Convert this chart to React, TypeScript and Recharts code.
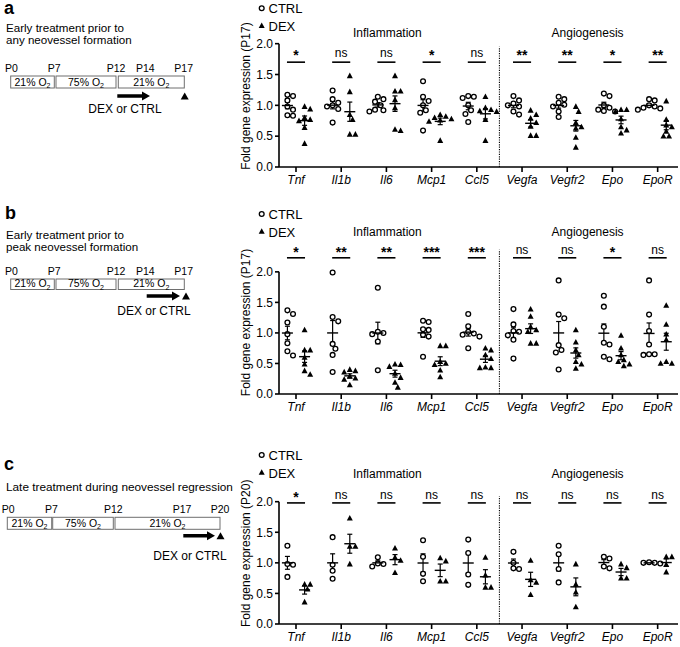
import React from 'react';
import { ScatterChart, Scatter, XAxis, YAxis, ReferenceLine, ReferenceDot, ErrorBar } from 'recharts';

const genes = ['Tnf', 'Il1b', 'Il6', 'Mcp1', 'Ccl5', 'Vegfa', 'Vegfr2', 'Epo', 'EpoR'];
const geneTicks = [0, 1, 2, 3, 4, 5, 6, 7, 8];
const yTicks = [0, 0.5, 1, 1.5, 2];

// a: early treatment P12-P14, harvested P17
const ctrlA = [
  [1.17, 1.15, 1.08, 0.98, 0.93, 0.84, 0.83],
  [1.24, 1.1, 1.04, 1.0, 0.98, 0.94, 0.72],
  [1.14, 1.1, 1.06, 1.0, 0.93, 0.92, 0.9],
  [1.39, 1.14, 1.07, 1.0, 0.92, 0.88, 0.59],
  [1.15, 1.14, 1.12, 1.0, 0.92, 0.86, 0.73],
  [1.15, 1.08, 1.03, 1.0, 0.98, 0.9, 0.85],
  [1.14, 1.1, 1.04, 1.01, 0.98, 0.9, 0.81],
  [1.19, 1.15, 1.0, 0.96, 0.93, 0.91, 0.9],
  [1.1, 1.08, 1.0, 0.98, 0.96, 0.95, 0.93],
];
const dexA = [
  [0.98, 0.94, 0.8, 0.77, 0.75, 0.64, 0.38],
  [1.48, 1.22, 0.85, 0.77, 0.53, 0.53],
  [1.48, 1.23, 1.23, 1.09, 0.96, 0.59, 0.61],
  [0.85, 0.82, 0.8, 0.78, 0.76, 0.74, 0.43],
  [1.14, 0.96, 0.93, 0.91, 0.9, 0.77, 0.43],
  [0.92, 0.85, 0.79, 0.72, 0.66, 0.51, 0.51],
  [0.98, 0.9, 0.72, 0.65, 0.63, 0.48, 0.32],
  [0.93, 0.93, 0.9, 0.78, 0.65, 0.6, 0.55],
  [1.07, 0.77, 0.68, 0.65, 0.58, 0.5, 0.5],
];
const sigA = ['*', 'ns', 'ns', '*', 'ns', '**', '**', '*', '**'];

// b: early treatment P14-P17, harvested P17
const ctrlB = [
  [1.37, 1.31, 1.17, 0.98, 0.83, 0.7, 0.63],
  [1.99, 1.26, 1.19, 0.82, 0.74, 0.64, 0.36],
  [1.74, 1.02, 1.0, 0.98, 0.86, 0.39],
  [1.2, 1.18, 1.06, 1.05, 0.97, 0.94, 0.61],
  [1.31, 1.11, 1.02, 0.99, 0.97, 0.94, 0.75],
  [1.39, 1.14, 1.03, 1.02, 0.96, 0.89, 0.58],
  [1.86, 1.3, 1.24, 0.8, 0.72, 0.68, 0.4],
  [1.61, 1.43, 1.1, 0.84, 0.81, 0.61, 0.57],
  [1.86, 1.3, 1.03, 0.81, 0.65, 0.65, 0.64],
];
const dexB = [
  [1.05, 0.72, 0.72, 0.6, 0.49, 0.38, 0.32],
  [0.4, 0.38, 0.36, 0.29, 0.26, 0.24, 0.15],
  [0.49, 0.48, 0.45, 0.34, 0.27, 0.19, 0.11],
  [0.79, 0.79, 0.53, 0.5, 0.48, 0.39, 0.28],
  [0.75, 0.72, 0.64, 0.58, 0.44, 0.43, 0.43],
  [1.39, 1.27, 1.1, 1.05, 1.02, 0.83, 0.83],
  [1.05, 0.85, 0.72, 0.64, 0.53, 0.49, 0.42],
  [0.96, 0.75, 0.64, 0.56, 0.53, 0.49, 0.46],
  [1.45, 1.14, 0.98, 0.89, 0.53, 0.5, 0.5],
];
const sigB = ['*', '**', '**', '***', '***', 'ns', 'ns', '*', 'ns'];

// c: late treatment P17-P20, harvested P20
const ctrlC = [
  [1.28, 0.98, 0.97, 0.77],
  [1.42, 0.97, 0.87, 0.74],
  [1.09, 0.99, 0.98, 0.94],
  [1.37, 1.1, 0.82, 0.7],
  [1.38, 1.16, 0.81, 0.64],
  [1.18, 1.0, 0.91, 0.9],
  [1.28, 1.14, 0.9, 0.68],
  [1.1, 1.07, 0.94, 0.91],
  [1.01, 1.0, 1.0, 0.99],
];
const dexC = [
  [0.65, 0.65, 0.57, 0.36],
  [1.73, 1.27, 1.27, 0.98],
  [1.24, 1.09, 1.04, 0.84],
  [1.08, 1.03, 0.7, 0.7],
  [1.09, 0.8, 0.6, 0.6],
  [1.04, 0.72, 0.68, 0.48],
  [0.98, 0.65, 0.52, 0.28],
  [0.98, 0.92, 0.75, 0.75],
  [1.1, 1.1, 0.97, 0.85],
];
const sigC = ['*', 'ns', 'ns', 'ns', 'ns', 'ns', 'ns', 'ns', 'ns'];

const FONT = '"Liberation Sans", Arial, Helvetica, sans-serif';
const X_MIN = -0.376;
const X_MAX = 8.45;
const PX_X = 399 / (X_MAX - X_MIN);
const OFF = 0.19;

const mean = (v: number[]) => v.reduce((s, x) => s + x, 0) / v.length;
const sem = (v: number[]) => {
  const m = mean(v);
  const sd = Math.sqrt(v.reduce((s, x) => s + (x - m) ** 2, 0) / (v.length - 1));
  return sd / Math.sqrt(v.length);
};

// little beeswarm so points at the same level sit next to each other
const swarm = (vals: number[], pxY: number) => {
  const placed: { y: number; dx: number }[] = [];
  const out = vals.map(() => 0);
  vals
    .map((v, i) => ({ v, i }))
    .sort((a, b) => b.v - a.v)
    .forEach(({ v, i }) => {
      for (const k of [0, 1, -1, 2, -2, 3, -3, 4, -4]) {
        const dx = k * 2.8;
        if (placed.every((p) => (p.dx - dx) ** 2 + ((p.y - v) * pxY) ** 2 >= 27)) {
          placed.push({ y: v, dx });
          out[i] = dx / PX_X;
          break;
        }
      }
    });
  return out;
};

const points = (groups: number[][], side: number, pxY: number) =>
  groups.flatMap((vals, i) => {
    const j = swarm(vals, pxY);
    return vals.map((v, k) => ({ x: i + side * OFF + j[k], y: v }));
  });

const means = (groups: number[][], side: number) =>
  groups.map((vals, i) => ({ x: i + side * OFF, y: mean(vals), sem: sem(vals) }));

const panels = [
  { key: 'a', top: 0, height: 200, mt: 19, mb: 13, yTop: 2.4, ctrl: ctrlA, dex: dexA, sig: sigA, sigY: 1.7, labelY: 1.86, headY: 2.17, divTop: 1.95 },
  { key: 'b', top: 200, height: 230, mt: 23, mb: 16, yTop: 2.8, ctrl: ctrlB, dex: dexB, sig: sigB, sigY: 2.23, labelY: 2.37, headY: 2.65, divTop: 2.36 },
  { key: 'c', top: 440, height: 207, mt: 25, mb: 3, yTop: 2.6, ctrl: ctrlC, dex: dexC, sig: sigC, sigY: 1.98, labelY: 2.12, headY: 2.46, divTop: 2.09 },
];

const OpenCircle = (p: any) => <circle cx={p.cx} cy={p.cy} r={2.4} fill="#fff" stroke="#000" strokeWidth={1.3} />;
const Tri = (p: any) => (
  <path d={`M${p.cx},${p.cy - 3.2}L${p.cx + 3},${p.cy + 2.4}L${p.cx - 3},${p.cy + 2.4}Z`} fill="#000" />
);
const MeanLine = (p: any) => <line x1={p.cx - 5.5} x2={p.cx + 5.5} y1={p.cy} y2={p.cy} stroke="#000" strokeWidth={1.4} />;

const Panel = ({ cfg }: { cfg: (typeof panels)[number] }) => {
  const plotH = cfg.height - cfg.mt - cfg.mb - 20;
  const pxY = plotH / cfg.yTop;
  const meanData = [...means(cfg.ctrl, -1), ...means(cfg.dex, 1)];
  return (
    <div style={{ position: 'absolute', left: 0, top: cfg.top }}>
      <ScatterChart width={680} height={cfg.height} margin={{ top: cfg.mt, right: 2, bottom: cfg.mb, left: 239 }}>
        <XAxis
          type="number"
          dataKey="x"
          domain={[X_MIN, X_MAX]}
          allowDataOverflow
          ticks={geneTicks}
          interval={0}
          tickFormatter={(v: number) => genes[Math.round(v)]}
          height={20}
          tickSize={5}
          tickMargin={3}
          axisLine={{ stroke: '#000', strokeWidth: 1.6 }}
          tickLine={{ stroke: '#000', strokeWidth: 1.6 }}
          tick={{ fill: '#000', fontSize: 12, fontStyle: 'italic', fontFamily: FONT }}
        />
        <YAxis
          type="number"
          dataKey="y"
          domain={[0, cfg.yTop]}
          allowDataOverflow
          ticks={yTicks}
          interval={0}
          tickFormatter={(v: number) => v.toFixed(1)}
          width={40}
          tickSize={4}
          tickMargin={2}
          axisLine={false}
          tickLine={{ stroke: '#000', strokeWidth: 1.6 }}
          tick={{ fill: '#000', fontSize: 12, fontFamily: FONT }}
        />
        <ReferenceLine segment={[{ x: X_MIN, y: 0 }, { x: X_MIN, y: 2 }]} stroke="#000" strokeWidth={1.6} ifOverflow="visible" />
        <ReferenceLine segment={[{ x: 4.5, y: 0 }, { x: 4.5, y: cfg.divTop }]} stroke="#000" strokeWidth={1.1} strokeDasharray="1.2 1.2" />
        {cfg.sig.map((s, i) => (
          <ReferenceLine key={`s${i}`} segment={[{ x: i - 0.2, y: cfg.sigY }, { x: i + 0.2, y: cfg.sigY }]} stroke="#000" strokeWidth={1.6} />
        ))}
        {cfg.sig.map((s, i) => (
          <ReferenceDot
            key={`t${i}`}
            x={i}
            y={s === 'ns' ? cfg.labelY : cfg.labelY - 3 / pxY}
            r={0}
            fill="none"
            stroke="none"
            label={{ value: s, position: 'center', fill: '#000', fontSize: s === 'ns' ? 12 : 14, fontWeight: s === 'ns' ? 'normal' : 'bold', fontFamily: FONT }}
          />
        ))}
        <ReferenceDot x={2.02} y={cfg.headY} r={0} fill="none" stroke="none"
          label={{ value: 'Inflammation', position: 'center', fill: '#000', fontSize: 12, fontFamily: FONT }} />
        <ReferenceDot x={6.45} y={cfg.headY} r={0} fill="none" stroke="none"
          label={{ value: 'Angiogenesis', position: 'center', fill: '#000', fontSize: 12, fontFamily: FONT }} />
        <Scatter name="CTRL" data={points(cfg.ctrl, -1, pxY)} shape={OpenCircle} isAnimationActive={false} />
        <Scatter name="DEX" data={points(cfg.dex, 1, pxY)} shape={Tri} isAnimationActive={false} />
        <Scatter name="mean" data={meanData} shape={MeanLine} isAnimationActive={false}>
          <ErrorBar dataKey="sem" direction="y" width={2.5} stroke="#000" strokeWidth={1.2} />
        </Scatter>
      </ScatterChart>
    </div>
  );
};

const O2 = ({ x, y, pct }: { x: number; y: number; pct: number }) => (
  <text x={x} y={y} textAnchor="middle" fontSize={10.5}>
    {pct}% O<tspan fontSize={7} dy={2.5}>2</tspan>
  </text>
);

const Arrow = ({ x1, x2, y }: { x1: number; x2: number; y: number }) => (
  <path d={`M${x1},${y - 1.7}L${x2 - 8},${y - 1.7}L${x2 - 8},${y - 4.5}L${x2},${y}L${x2 - 8},${y + 4.5}L${x2 - 8},${y + 1.7}L${x1},${y + 1.7}Z`} fill="#000" />
);

const Harvest = ({ x, y }: { x: number; y: number }) => (
  <path d={`M${x},${y - 3.5}L${x + 4},${y + 3.5}L${x - 4},${y + 3.5}Z`} fill="#000" />
);

const Box = ({ x1, x2, y, h, pct }: { x1: number; x2: number; y: number; h: number; pct: number }) => (
  <g>
    <rect x={x1} y={y} width={x2 - x1} height={h} fill="#fff" stroke="#6e6e6e" strokeWidth={1} />
    <O2 x={(x1 + x2) / 2} y={y + h - 2.5} pct={pct} />
  </g>
);

const LegendKey = ({ y }: { y: number }) => (
  <g fontSize={13}>
    <circle cx={261.7} cy={y} r={2.4} fill="#fff" stroke="#000" strokeWidth={1.3} />
    <text x={268.5} y={y + 4.5}>CTRL</text>
    <path d={`M261.7,${y + 14.2}L264.7,${y + 19.8}L258.7,${y + 19.8}Z`} fill="#000" />
    <text x={268.5} y={y + 22.5}>DEX</text>
  </g>
);

const Overlay = () => (
  <svg width={680} height={647} style={{ position: 'absolute', left: 0, top: 0, pointerEvents: 'none' }} fontFamily={FONT} fill="#000">
    {/* a */}
    <text x={4} y={14} fontSize={18} fontWeight="bold">a</text>
    <text x={6} y={32} fontSize={11.6}>Early treatment prior to</text>
    <text x={6} y={43.6} fontSize={11.6}>any neovessel formation</text>
    <g fontSize={10.5}>
      <text x={5} y={71.5}>P0</text>
      <text x={47.7} y={71.5}>P7</text>
      <text x={106.7} y={71.5}>P12</text>
      <text x={136} y={71.5}>P14</text>
      <text x={174.3} y={71.5}>P17</text>
    </g>
    <Box x1={10.7} x2={54.3} y={76} h={12} pct={21} />
    <Box x1={56} x2={116} y={76} h={12} pct={75} />
    <Box x1={118.3} x2={184.3} y={76} h={12} pct={21} />
    <Arrow x1={117.3} x2={150} y={96} />
    <Harvest x={184.7} y={96} />
    <text x={88.3} y={113} fontSize={12}>DEX or CTRL</text>

    {/* b */}
    <text x={5} y={219} fontSize={18} fontWeight="bold">b</text>
    <text x={6} y={239} fontSize={11.6}>Early treatment prior to</text>
    <text x={6} y={250.8} fontSize={11.6}>peak neovessel formation</text>
    <g fontSize={10.5}>
      <text x={5} y={274.5}>P0</text>
      <text x={47.7} y={274.5}>P7</text>
      <text x={106.7} y={274.5}>P12</text>
      <text x={136} y={274.5}>P14</text>
      <text x={174.3} y={274.5}>P17</text>
    </g>
    <Box x1={10.7} x2={54.3} y={279} h={10.5} pct={21} />
    <Box x1={56} x2={116} y={279} h={10.5} pct={75} />
    <Box x1={118.3} x2={184.3} y={279} h={10.5} pct={21} />
    <Arrow x1={146.7} x2={180} y={296} />
    <Harvest x={186} y={296} />
    <text x={117.3} y={315} fontSize={12}>DEX or CTRL</text>

    {/* c */}
    <text x={4} y={470} fontSize={18} fontWeight="bold">c</text>
    <text x={6} y={491} fontSize={11.8}>Late treatment during neovessel regression</text>
    <g fontSize={10.5}>
      <text x={1.7} y={513}>P0</text>
      <text x={45} y={513}>P7</text>
      <text x={104} y={513}>P12</text>
      <text x={172.7} y={513}>P17</text>
      <text x={210.7} y={513}>P20</text>
    </g>
    <Box x1={7.3} x2={51.7} y={517.3} h={12} pct={21} />
    <Box x1={52.7} x2={113.3} y={517.3} h={12} pct={75} />
    <Box x1={115} x2={220} y={517.3} h={12} pct={21} />
    <Arrow x1={183.3} x2={215} y={535.7} />
    <Harvest x={220.5} y={535.7} />
    <text x={153.3} y={560} fontSize={12}>DEX or CTRL</text>

    {/* legends and y titles */}
    <LegendKey y={8.3} />
    <LegendKey y={214} />
    <LegendKey y={455} />
    <g fontSize={12} textAnchor="middle">
      <text transform="translate(249.5, 96) rotate(-90)">Fold gene expression (P17)</text>
      <text transform="translate(249.5, 322.5) rotate(-90)">Fold gene expression (P17)</text>
      <text transform="translate(249.5, 553.3) rotate(-90)">Fold gene expression (P20)</text>
    </g>
  </svg>
);

export default function App() {
  return (
    <div style={{ position: 'absolute', left: 0, top: 0, width: 680, height: 647, background: '#fff', overflow: 'hidden', fontFamily: FONT }}>
      {panels.map((p) => (
        <Panel key={p.key} cfg={p} />
      ))}
      <Overlay />
    </div>
  );
}
